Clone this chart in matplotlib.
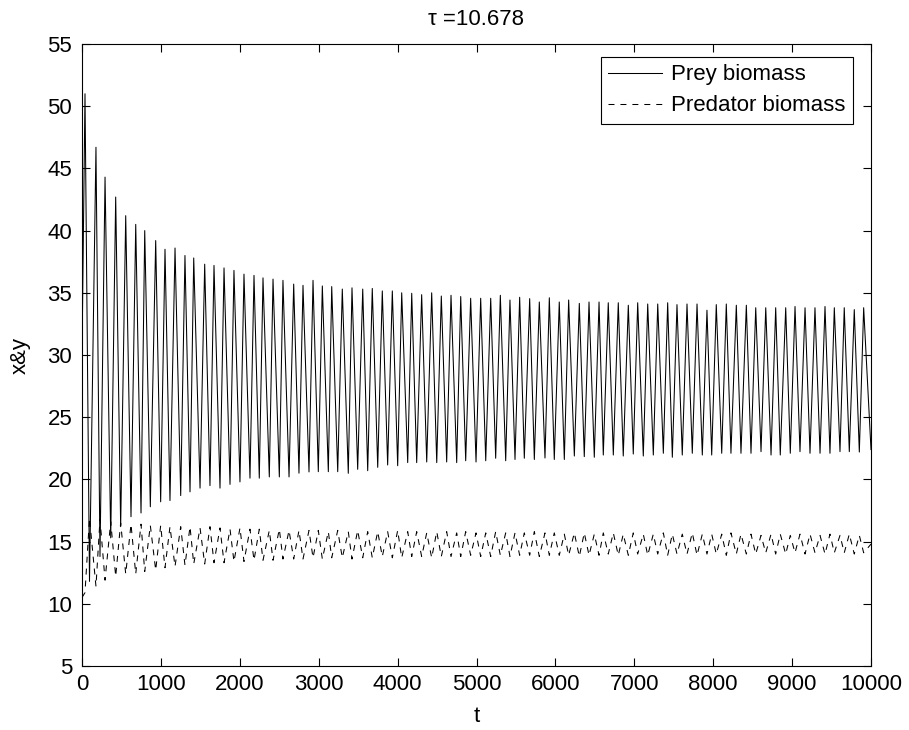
import matplotlib
matplotlib.use("Agg")
import matplotlib.pyplot as plt
import numpy as np

plt.rcParams['font.family'] = ['Liberation Sans', 'DejaVu Sans']
plt.rcParams['lines.scale_dashes'] = False

# ---- data ----
title_text = "τ =10.678"
legend_labels = ["Prey biomass", "Predator biomass"]
x_ticks = [0, 1000, 2000, 3000, 4000, 5000, 6000, 7000, 8000, 9000, 10000]
y_ticks = [5, 10, 15, 20, 25, 30, 35, 40, 45, 50, 55]

t_start, t_end = 0, 10000
prey_start, prey_end = 30.0, 22.4
pred_start, pred_end = 10.5, 14.8

# prey maxima (time, value)
prey_peak_t = [38, 177, 292, 427, 554, 681, 795, 934, 1052, 1179, 1305, 1416, 1555, 1673,
               1800, 1926, 2053, 2180, 2294, 2421, 2547, 2683, 2801, 2928,
               3046, 3165, 3299, 3422, 3558, 3679, 3806, 3933, 4052, 4179, 4305, 4432,
               4554, 4677, 4800, 4926, 5053, 5180, 5302, 5424, 5547, 5674, 5796, 5923,
               6049, 6168, 6303, 6426, 6553,
               6670, 6797, 6924, 7043, 7170, 7297, 7423, 7541, 7668, 7795, 7921, 8039,
               8166, 8293, 8420, 8539, 8666, 8792, 8919, 9037, 9164, 9290, 9417, 9535,
               9661, 9788, 9907]
prey_peak_v = [51.0, 46.7, 44.3, 42.7, 41.2, 40.5, 40.0, 39.2, 38.5, 38.6, 38.0, 37.8, 37.3, 37.2,
               37.0, 36.8, 36.5, 36.4, 36.2, 36.1, 36.0, 35.7, 35.6, 36.0,
               35.55, 35.5, 35.3, 35.4, 35.3, 35.35, 35.15, 35.15, 35.0, 34.96, 34.85, 35.0,
               34.74, 34.8, 34.7, 34.56, 34.56, 34.56, 34.8, 34.42, 34.64, 34.53, 34.26, 34.6,
               34.26, 34.42, 34.15, 34.26, 34.26,
               34.2, 34.2, 34.0, 34.2, 34.1, 34.1, 34.2, 34.05, 34.1, 34.1, 33.6, 34.05,
               34.1, 34.0, 34.0, 33.8, 33.8, 33.8, 33.8, 33.9, 33.8, 33.8, 33.9, 33.8,
               33.8, 33.65, 33.8]

# prey minima (time, value)
prey_trough_t = [95, 228, 364, 490, 621, 748, 866, 997, 1115, 1251, 1369, 1496, 1622, 1749,
                 1876, 2002, 2129, 2247, 2374, 2501, 2624, 2750, 2877,
                 2995, 3122, 3241, 3375, 3494, 3621, 3748, 3874, 4001, 4128, 4242, 4369,
                 4496, 4622, 4749, 4863, 4994, 5117, 5243, 5370, 5488, 5606, 5733, 5868,
                 5986, 6113, 6240, 6366, 6493, 6607,
                 6734, 6860, 6987, 7114, 7241, 7368, 7482, 7608, 7735, 7862, 7981, 8108,
                 8225, 8352, 8479, 8606, 8733, 8850, 8977, 9100, 9227, 9354, 9480, 9607,
                 9725, 9852]
prey_trough_v = [11.8, 13.8, 15.3, 16.2, 17.0, 17.3, 17.8, 18.2, 18.3, 18.7, 19.0, 19.3, 19.5, 19.3,
                 19.6, 19.8, 20.1, 20.1, 20.2, 20.2, 20.2, 20.5, 20.6,
                 20.62, 20.62, 20.62, 20.49, 20.81, 20.7, 20.97, 21.16, 21.1, 21.35, 21.35, 21.4,
                 21.35, 21.4, 21.35, 21.5, 21.4, 21.5, 21.7, 21.5, 21.6, 21.7, 21.6, 21.72,
                 21.6, 21.6, 21.88, 21.83, 21.78, 21.96,
                 21.96, 21.88, 22.04, 21.88, 21.96, 22.1, 21.78, 21.96, 22.1, 21.96, 21.96, 22.1,
                 22.1, 22.1, 22.1, 22.23, 21.96, 21.96, 22.1, 22.23, 22.1, 22.1, 22.1, 22.23,
                 22.23, 22.2]

# predator minima (at the prey-maximum times) and maxima (at the prey-minimum times)
pred_trough_v = [10.9, 11.4, 11.9, 12.2, 12.4, 12.4, 12.6, 12.7, 12.9, 13.0, 13.1, 13.2, 13.2, 13.3,
                 13.3, 13.4, 13.4, 13.5, 13.5, 13.5, 13.6, 13.6, 13.6, 13.7,
                 13.6, 13.7, 13.7, 13.6, 13.7, 13.7, 13.8, 13.7, 13.7, 13.8, 13.8, 13.7,
                 13.8, 13.8, 13.8, 13.9, 13.8, 13.8, 13.9, 13.8, 13.9, 13.9, 13.8, 13.9,
                 13.9, 13.9, 13.8, 13.9, 13.9,
                 14.0, 13.9, 13.9, 14.0, 13.9, 14.0, 13.9, 14.0, 14.0, 13.9, 14.0, 14.0,
                 13.9, 14.0, 14.0, 14.0, 14.1, 14.0, 14.0, 14.1, 14.0, 14.1, 14.0, 14.1,
                 14.1, 14.0, 14.1]
pred_peak_v = [16.9, 16.8, 16.6, 16.5, 16.4, 16.4, 16.3, 16.3, 16.2, 16.2, 16.2, 16.1, 16.2, 16.1,
               16.0, 16.1, 16.0, 16.0, 15.9, 16.0, 15.9, 15.9, 15.9,
               15.9, 15.8, 15.9, 15.8, 15.9, 15.8, 15.8, 15.8, 15.9, 15.8, 15.8, 15.7,
               15.8, 15.8, 15.7, 15.8, 15.7, 15.7, 15.8, 15.7, 15.7, 15.7, 15.8, 15.7,
               15.7, 15.6, 15.7, 15.7, 15.6, 15.7,
               15.7, 15.6, 15.7, 15.6, 15.6, 15.7, 15.6, 15.6, 15.7, 15.6, 15.6, 15.6,
               15.7, 15.6, 15.6, 15.5, 15.6, 15.6, 15.5, 15.6, 15.6, 15.5, 15.6, 15.5,
               15.6, 15.5]

# ---- assemble series (sorted by time) ----
def series(t_a, v_a, t_b, v_b, t0, v0, t1, v1):
    t = np.concatenate([[t0], t_a, t_b, [t1]])
    v = np.concatenate([[v0], v_a, v_b, [v1]])
    order = np.argsort(t, kind="stable")
    return t[order], v[order]

prey_t, prey_v = series(prey_peak_t, prey_peak_v, prey_trough_t, prey_trough_v,
                        t_start, prey_start, t_end, prey_end)
pred_t, pred_v = series(prey_peak_t, pred_trough_v, prey_trough_t, pred_peak_v,
                        t_start, pred_start, t_end, pred_end)

# ---- figure ----
fig = plt.figure(figsize=(9.09, 7.30), dpi=100)
ax = fig.add_axes([82 / 909, 64 / 730, 789 / 909, 622 / 730])

ax.plot(prey_t, prey_v, color='black', lw=0.75, label=legend_labels[0])
ax.plot(pred_t, pred_v, color='black', lw=0.75, linestyle='--', dashes=(4.3, 4.3),
        label=legend_labels[1])

ax.set_xlim(0, 10000)
ax.set_ylim(5, 55)
ax.set_xticks(x_ticks)
ax.set_yticks(y_ticks)
ax.tick_params(direction='in', top=True, right=True, length=5.7, width=0.8,
               labelsize=16, color='black')
ax.tick_params(axis='x', pad=6)
ax.tick_params(axis='y', pad=7)
for s in ax.spines.values():
    s.set_linewidth(0.8)
    s.set_color('black')

ax.set_xlabel('t', fontsize=16, labelpad=8)
ax.set_ylabel('x&y', fontsize=16, labelpad=12)
ax.set_title(title_text, fontsize=16, pad=14)

leg = ax.legend(loc='upper right', bbox_to_anchor=((852.7 - 82) / 789, (666 - 56.7) / 622),
                borderaxespad=0, fontsize=16, frameon=True, fancybox=False,
                edgecolor='black', framealpha=1, handlelength=2.4, handletextpad=0.4,
                labelspacing=0.45, borderpad=0.35)
leg.get_frame().set_linewidth(0.8)

fig.savefig('out.png', dpi=100, facecolor='white')
